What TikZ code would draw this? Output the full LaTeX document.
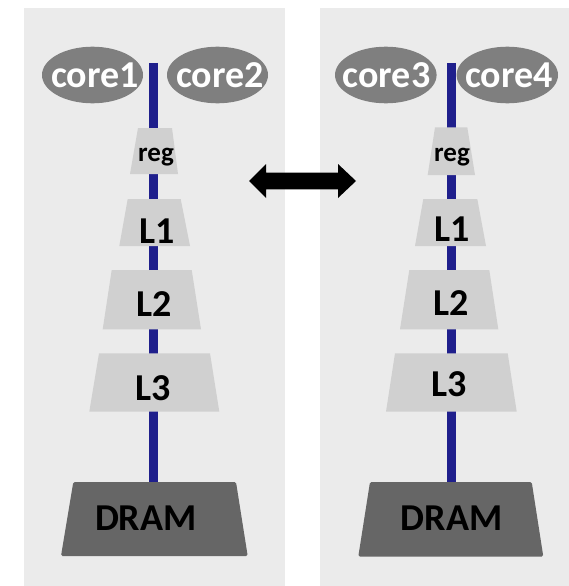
\documentclass[tikz,border=0pt]{standalone}
\usepackage{fontspec}
\setmainfont{Carlito}
\definecolor{panelgray}{HTML}{EBEBEB}
\definecolor{cachegray}{HTML}{D0D0D0}
\definecolor{dramgray}{HTML}{666666}
\definecolor{coregray}{HTML}{7F7F7F}
\definecolor{busblue}{HTML}{1F1F8C}
\begin{document}
\begin{tikzpicture}[x=1pt,y=-1pt,
  panel/.style={fill=panelgray},
  cache/.style={fill=cachegray},
  dram/.style={fill=dramgray, rounded corners=1.5pt},
  core/.style={fill=coregray},
  bus/.style={draw=busblue, line width=9pt},
  big/.style={anchor=base, inner sep=0pt, font=\fontsize{38}{40}\selectfont\bfseries},
  small/.style={anchor=base, inner sep=0pt, font=\fontsize{27}{29}\selectfont\bfseries},
  corelabel/.style={big, text=white}]
\useasboundingbox (0,0) rectangle (569,586);

% two machine panels
\fill[panel] (23.6,8) rectangle (284.8,586);
\fill[panel] (320,8) rectangle (569,586);

% ---------- left machine ----------
\coordinate (busA) at (153.5,63);
\coordinate (dramA) at (153.5,482);
\draw[bus] (busA) -- (dramA);
\fill[core] (92.5,75) ellipse [x radius=50.5, y radius=28.3];
\fill[core] (217.5,75) ellipse [x radius=50.5, y radius=28.3];
\fill[cache] (138,128) -- (172,128) -- (178,174) -- (130,174) -- cycle;
\fill[cache] (127.7,199) -- (180.7,199) -- (190,246) -- (119.3,246) -- cycle;
\fill[cache] (111.7,270) -- (191.7,270) -- (201,329.3) -- (102.7,329.3) -- cycle;
\fill[cache] (99,353.3) -- (210,353.3) -- (219.3,411.7) -- (89.3,411.7) -- cycle;
\fill[dram] (73.3,482) -- (236,482) -- (247.7,556) -- (61,556) -- cycle;
\node[corelabel] (core1) at (95,88) {core1};
\node[corelabel] (core2) at (220,88) {core2};
\node[small] (regA) at (156,161.7) {reg};
\node[big] (l1A) at (157,243) {L1};
\node[big] (l2A) at (154.5,316.7) {L2};
\node[big] (l3A) at (153.4,400) {L3};
\node[big] (memA) at (145.8,530) {DRAM};

% ---------- right machine ----------
\coordinate (busB) at (451.3,63);
\coordinate (dramB) at (451.3,482);
\draw[bus] (busB) -- (dramB);
\fill[core] (385.8,75) ellipse [x radius=50.8, y radius=28.3];
\fill[core] (507.3,75) ellipse [x radius=50.7, y radius=28.3];
\fill[cache] (435,127.3) -- (467.3,127.3) -- (475,175) -- (427.7,175) -- cycle;
\fill[cache] (423.3,199) -- (477.3,199) -- (486,246) -- (415,246) -- cycle;
\fill[cache] (409.3,270) -- (489.3,270) -- (498.3,329.3) -- (400,329.3) -- cycle;
\fill[cache] (395,353.3) -- (507.7,353.3) -- (516.7,411.7) -- (386,411.7) -- cycle;
\fill[dram] (370,482) -- (531.7,482) -- (543.3,556.5) -- (358.3,556.5) -- cycle;
\node[corelabel] (core3) at (386.5,88) {core3};
\node[corelabel] (core4) at (509,88) {core4};
\node[small] (regB) at (452,161.7) {reg};
\node[big] (l1B) at (452.5,241.7) {L1};
\node[big] (l2B) at (450.8,315) {L2};
\node[big] (l3B) at (449.5,396.7) {L3};
\node[big] (memB) at (451.7,530.5) {DRAM};

% block double arrow between the machines
\fill[black] (249,181) -- (266,164) -- (266,172.7) -- (338,172.7) -- (338,164)
  -- (356,181) -- (338,198) -- (338,189.3) -- (266,189.3) -- (266,198) -- cycle;
\end{tikzpicture}
\end{document}
